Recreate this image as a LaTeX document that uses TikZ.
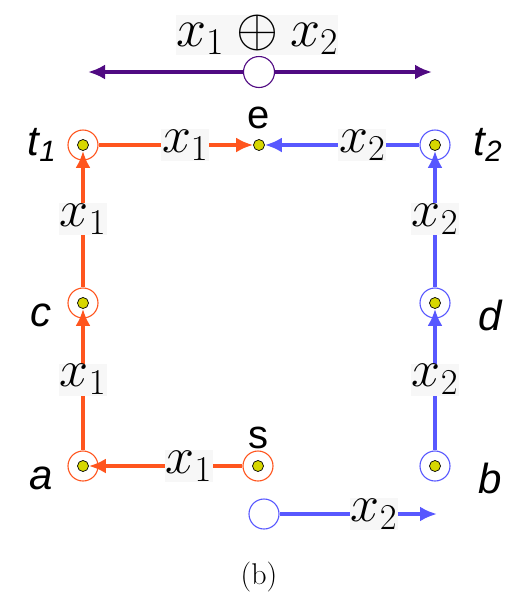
\RequirePackage{fix-cm}
\documentclass[tikz,border=0pt]{standalone}
\usepackage{amsmath,fontspec}
\usetikzlibrary{arrows.meta,positioning}
\newfontfamily\labelfont{Liberation Sans}
\definecolor{pathorange}{RGB}{255,85,30}
\definecolor{pathblue}{RGB}{88,88,255}
\definecolor{xorpurple}{RGB}{80,10,130}
\definecolor{dotyellow}{RGB}{215,215,0}

\begin{document}
\begin{tikzpicture}[x=1pt,y=-1pt,
    ring/.style={circle,draw,line width=1.1pt,fill=white,minimum size=30pt,inner sep=0pt},
    pdot/.style={circle,draw=black,line width=0.7pt,fill=dotyellow,minimum size=11pt,inner sep=0pt},
    flow/.style={line width=4pt,-{Latex[length=17pt,width=15pt]}},
    xlab/.style={fill=gray!6,text=black,inner sep=1pt,font=\fontsize{52}{54}\selectfont},
    vname/.style={font=\labelfont\itshape\fontsize{42}{44}\selectfont},
    vnameup/.style={font=\labelfont\fontsize{40}{42}\selectfont}]
    \useasboundingbox (0,0) rectangle (531,598);
    % Relay nodes (ring with a dot)
    \foreach \n/\x/\y/\c in {t1/83/145/pathorange, c/83/303/pathorange, a/83/466/pathorange,
                             s/258/466/pathorange, t2/435/145/pathblue, d/435/303/pathblue,
                             b/435/466/pathblue}{
      \node[ring,draw=\c] (\n) at (\x,\y) {};
      \node[pdot] (\n-dot) at (\x,\y) {};
    }
    \node[pdot] (e) at (259,145) {};
    % Node names
    \node[vname] (t1-name) at (42,145) {t\textsubscript{1}};
    \node[vname] (c-name) at (41,315) {c};
    \node[vname] (a-name) at (41,478) {a};
    \node[vname] (t2-name) at (488,145) {t\textsubscript{2}};
    \node[vname] (d-name) at (490,315) {d};
    \node[vname] (b-name) at (490,478) {b};
    \node[vnameup] (e-name) at (259,118) {e};
    \node[vnameup] (s-name) at (258,438) {s};
    % Path of x1 (orange)
    \draw[flow,pathorange] (s) -- (a-dot) node[xlab,pos=0.35] {$x_1$};
    \draw[flow,pathorange] (a) -- (c-dot) node[xlab,midway] {$x_1$};
    \draw[flow,pathorange] (c) -- (t1-dot) node[xlab,midway] {$x_1$};
    \draw[flow,pathorange] (t1) -- (e) node[xlab,pos=0.56] {$x_1$};
    % Path of x2 (blue)
    \node[ring,draw=pathblue] (src) at (264,514) {};
    \coordinate (src-end) at (437,514);
    \draw[flow,pathblue] (src) -- (src-end) node[xlab,pos=0.6] {$x_2$};
    \draw[flow,pathblue] (b) -- (d-dot) node[xlab,midway] {$x_2$};
    \draw[flow,pathblue] (d) -- (t2-dot) node[xlab,midway] {$x_2$};
    \draw[flow,pathblue] (t2) -- (e) node[xlab,pos=0.37] {$x_2$};
    % Broadcast of x1+x2
    \node[xlab,inner sep=0pt,font=\fontsize{54}{56}\selectfont] (xor) at (257,35) {$x_1 \oplus x_2$};
    \node[ring,draw=xorpurple,minimum size=31pt] (mix) at (259,72) {};
    \coordinate (mix-left) at (88,72);
    \coordinate (mix-right) at (432,72);
    \draw[flow,xorpurple] (mix) -- (mix-left);
    \draw[flow,xorpurple] (mix) -- (mix-right);
    \node[font=\fontsize{30}{32}\selectfont] (cap) at (259,577) {(b)};
\end{tikzpicture}
\end{document}
